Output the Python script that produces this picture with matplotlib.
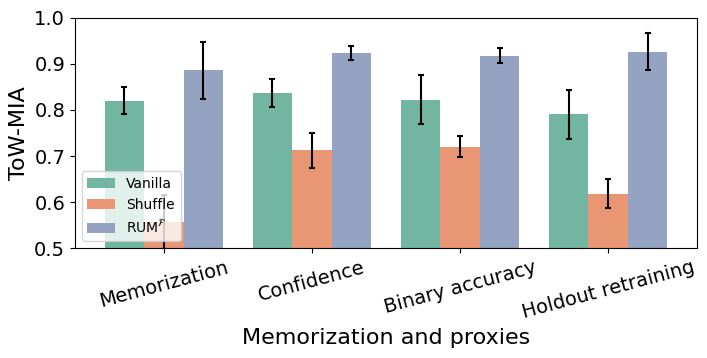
import colorsys
import numpy as np
import matplotlib.pyplot as plt
import matplotlib.colors as mcolors

categories = ['Memorization', 'Confidence', 'Binary accuracy', 'Holdout retraining']
methods = ['Vanilla', 'Shuffle', r'RUM$^\mathcal{F}$']

vanilla = [0.820, 0.837, 0.822, 0.791]
vanilla_err = [0.029, 0.030, 0.053, 0.053]
shuffle = [0.557, 0.713, 0.720, 0.618]
shuffle_err = [0.058, 0.038, 0.023, 0.031]
rum = [0.886, 0.923, 0.918, 0.927]
rum_err = [0.062, 0.015, 0.017, 0.041]


def desat(c, s=0.75):
    r, g, b = mcolors.to_rgb(c)
    h, l, sat = colorsys.rgb_to_hls(r, g, b)
    return colorsys.hls_to_rgb(h, l, sat * s)


colors = [desat(c) for c in ['#66c2a5', '#fc8d62', '#8da0cb']]

fig, ax = plt.subplots(figsize=(7.07, 3.58), dpi=100)
x = np.arange(len(categories))
w = 0.8 / 3
for i, (vals, errs) in enumerate([(vanilla, vanilla_err), (shuffle, shuffle_err), (rum, rum_err)]):
    ax.bar(x + (i - 1) * w, vals, w, color=colors[i], label=methods[i],
           yerr=errs, capsize=2.5, error_kw=dict(ecolor='black', elinewidth=1.5, capthick=1.5))

ax.set_ylim(0.5, 1.0)
ax.set_xlim(-0.6, 3.6)
ax.set_xticks(x)
ax.set_xticklabels(categories, rotation=15, fontsize=14)
ax.tick_params(axis='y', labelsize=14)
ax.set_ylabel('ToW-MIA', fontsize=16)
ax.set_xlabel('Memorization and proxies', fontsize=16)
ax.legend(loc='lower left', fontsize=10)
fig.subplots_adjust(left=0.106, right=0.986, top=0.95, bottom=0.307)
fig.savefig('out.png')
